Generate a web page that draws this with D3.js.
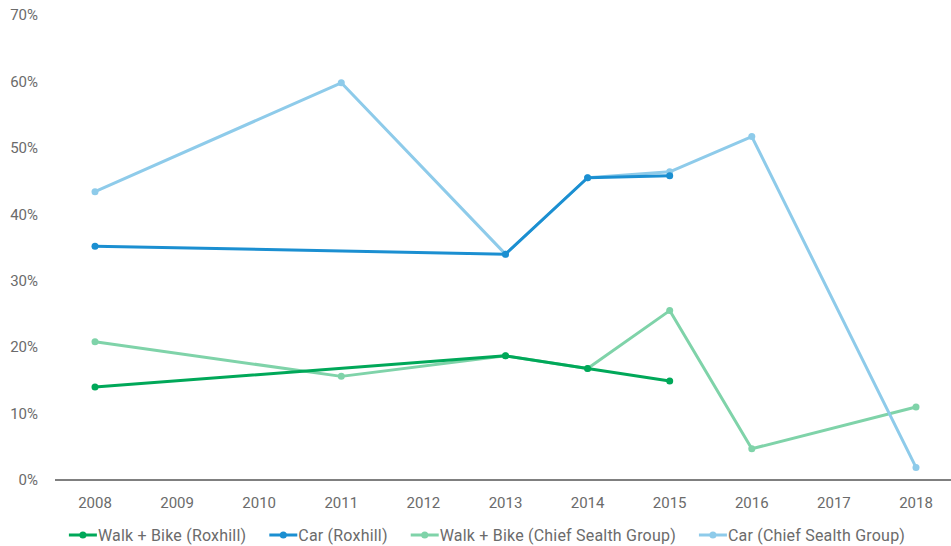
<!DOCTYPE html>
<html>
<head>
<meta charset="utf-8">
<script src="https://cdn.jsdelivr.net/npm/d3@7"></script>
<style>
  body { margin: 0; background: #fff; }
  text { font-family: Roboto, "DejaVu Sans", sans-serif; fill: #6b6b6b; }
</style>
</head>
<body>
<svg id="chart" width="951" height="546"></svg>
<script>
// categories
var years = ["2008", "2009", "2010", "2011", "2012", "2013", "2014", "2015", "2016", "2017", "2018"];
var yTicks = [0, 10, 20, 30, 40, 50, 60, 70];

// series values (percent), null = no survey that year
var walkBikeRoxhill = [14.0, null, null, null, null, 18.7, 16.8, 14.9, null, null, null];
var carRoxhill      = [35.2, null, null, null, null, 34.0, 45.5, 45.8, null, null, null];
var walkBikeCSG     = [20.8, null, null, 15.6, null, 18.7, 16.8, 25.5, 4.7, null, 11.0];
var carCSG          = [43.4, null, null, 59.8, null, 34.0, 45.5, 46.4, 51.7, null, 1.9];

var seriesNames  = ["Walk + Bike (Roxhill)", "Car (Roxhill)", "Walk + Bike (Chief Sealth Group)", "Car (Chief Sealth Group)"];
var seriesColors = ["#00a859", "#1b8fd1", "#7fd3a9", "#8ecbea"];
var seriesValues = [walkBikeRoxhill, carRoxhill, walkBikeCSG, carCSG];

var svg = d3.select("#chart");

var x = d3.scalePoint().domain(years).range([95, 916]);
var y = d3.scaleLinear().domain([0, 70]).range([480, 15]);

//////////////
// Axes
//////////////

// y labels, no axis line
svg.append("g")
    .selectAll("text")
    .data(yTicks)
    .enter()
    .append("text")
        .attr("x", 38)
        .attr("y", function(d) { return y(d); })
        .attr("dy", "0.35em")
        .attr("text-anchor", "end")
        .style("font-size", "15px")
        .text(function(d) { return d + "%"; });

// baseline
svg.append("line")
    .attr("x1", 55).attr("x2", 951)
    .attr("y1", y(0)).attr("y2", y(0))
    .attr("stroke", "#000")
    .attr("stroke-width", 1);

// x labels
svg.append("g")
    .selectAll("text")
    .data(years)
    .enter()
    .append("text")
        .attr("x", function(d) { return x(d); })
        .attr("y", 503)
        .attr("dy", "0.35em")
        .attr("text-anchor", "middle")
        .style("font-size", "15px")
        .text(function(d) { return d; });

//////////////
// Lines
//////////////

var line = d3.line()
    .x(function(d) { return x(d.year); })
    .y(function(d) { return y(d.value); });

// Chief Sealth series underneath, Roxhill on top
[2, 3, 0, 1].forEach(function(i) {
    var pts = years.map(function(yr, j) { return { year: yr, value: seriesValues[i][j] }; })
        .filter(function(d) { return d.value !== null; });

    var g = svg.append("g");
    g.append("path")
        .attr("d", line(pts))
        .attr("fill", "none")
        .attr("stroke", seriesColors[i])
        .attr("stroke-width", 3)
        .attr("stroke-linejoin", "round");

    g.selectAll("circle")
        .data(pts)
        .enter()
        .append("circle")
            .attr("cx", function(d) { return x(d.year); })
            .attr("cy", function(d) { return y(d.value); })
            .attr("r", 3.5)
            .attr("fill", seriesColors[i]);
});

//////////////
// Legend
//////////////

var legend = svg.append("g");
var items = legend.selectAll("g")
    .data(seriesNames)
    .enter()
    .append("g");

items.append("text")
    .attr("x", 29)
    .attr("y", 535)
    .attr("dy", "0.35em")
    .style("font-size", "16px")
    .style("letter-spacing", "0.2px")
    .text(function(d) { return d; });

var cursor = 72;
items.each(function(d, i) {
    var it = d3.select(this);
    var w = it.select("text").node().getComputedTextLength();
    it.attr("transform", "translate(" + cursor + ",0)");
    it.append("line")
        .attr("x1", 0).attr("x2", 28)
        .attr("y1", 535).attr("y2", 535)
        .attr("stroke", seriesColors[i])
        .attr("stroke-width", 3);
    it.append("circle")
        .attr("cx", 14).attr("cy", 535)
        .attr("r", 3.5)
        .attr("fill", seriesColors[i]);
    cursor += 29 + w + 23;
});

// center legend on the same spot as the reference
var legendW = cursor - 23 - 72;
legend.attr("transform", "translate(" + (487 - legendW / 2 - 72) + ",0)");
</script>
</body>
</html>
